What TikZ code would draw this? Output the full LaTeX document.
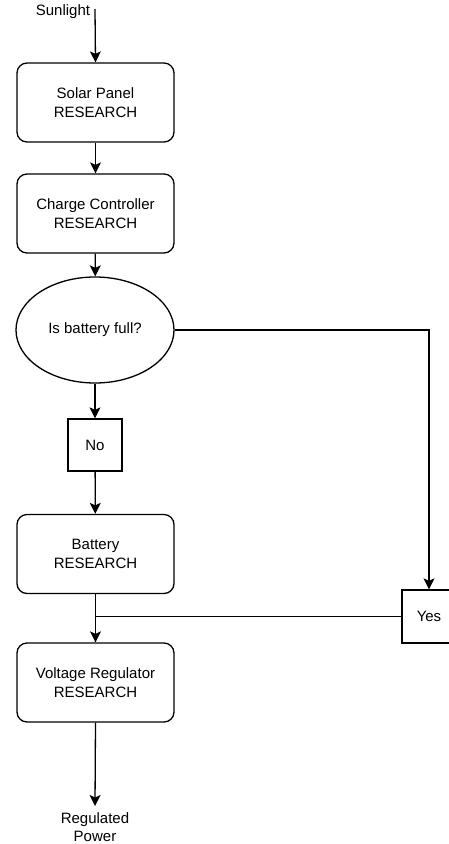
\documentclass[tikz,border=0pt]{standalone}
\usepackage{fontspec}
\setmainfont{Liberation Sans}
\usetikzlibrary{arrows.meta,positioning,shapes.geometric}

\begin{document}
\begin{tikzpicture}[x=1pt,y=-1pt,>={Stealth[length=11pt,width=11pt,inset=2.5pt]},
  font=\fontsize{15}{18.5}\selectfont,
  box/.style={draw,line width=1.3pt,rounded corners=10pt,minimum width=157pt,minimum height=79pt,align=center},
  tag/.style={draw,line width=1.3pt,minimum width=54pt,minimum height=52pt},
  flow/.style={->,line width=1.3pt}]
\useasboundingbox[fill=white] (0,0) rectangle (449,844);
% main column
\node (sun) at (63,12) {Sunlight};
\coordinate (sunin) at (95,9);
\node[box] (solar) at (95.5,102.5) {Solar Panel\\RESEARCH};
\node[box] (charge) at (95.5,213.5) {Charge Controller\\RESEARCH};
\node[draw,ellipse,line width=1.3pt,minimum width=158pt,minimum height=106pt] (full) at (95,330) {Is battery full?};
\node[tag] (no) at (95,445) {No};
\node[box] (battery) at (95.5,554) {Battery\\RESEARCH};
\node[box] (volt) at (95.5,682.5) {Voltage Regulator\\RESEARCH};
\node[align=center,anchor=north,inner sep=0pt] (power) at (95,812) {Regulated\\Power};
\coordinate (powin) at (95,806);
% yes branch
\node[tag,minimum height=53pt] (yes) at (429,616.5) {Yes};
% connectors
\draw[flow] (sunin) -- (solar.north);
\draw[flow] (solar) -- (charge);
\draw[flow] (charge) -- (full);
\draw[flow] (full) -- (no);
\draw[flow] (no) -- (battery);
\draw[flow] (battery) -- (volt);
\draw[flow] (volt.south) -- (powin);
\draw[flow] (full.east) -| (yes.north);
\draw[line width=1.3pt] (yes.west) -- (yes.west -| battery.south);
\end{tikzpicture}
\end{document}
